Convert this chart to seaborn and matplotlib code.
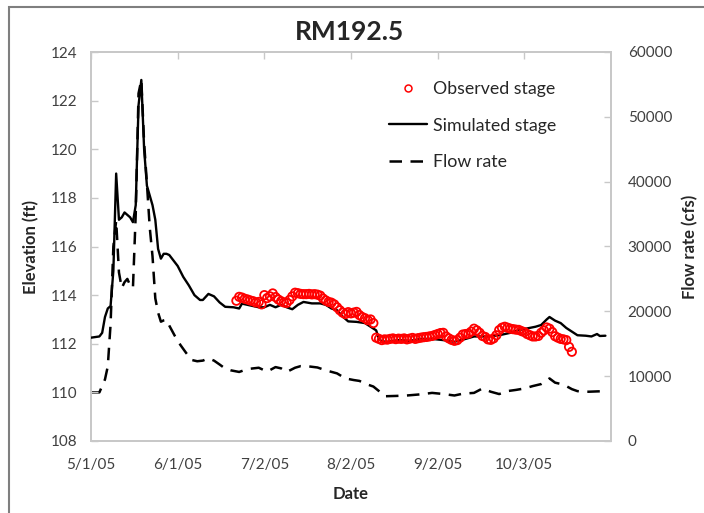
import numpy as np
import pandas as pd
import matplotlib
matplotlib.use("Agg")
import matplotlib.pyplot as plt
from matplotlib.lines import Line2D
from matplotlib.patches import Rectangle
import seaborn as sns

# ---------------- data (days since 5/1/05) ----------------
start_date = "2005-05-01"

sim_days = [0, 3, 4, 5, 6, 7, 8, 9, 10, 11, 12, 13, 14, 15, 16, 17, 18, 19, 20, 21,
            22, 23, 24, 25, 26, 27, 28, 29, 31, 33, 35, 37, 39, 40, 42, 44, 46, 48, 51, 53,
            54, 56, 58, 60, 62, 64, 66, 68, 70, 72, 74, 76, 79, 82, 84, 86, 88, 90, 92, 95,
            98, 100, 102, 103, 104, 106, 110, 114, 118, 122, 126, 130, 134, 137, 142, 146, 150, 153, 156, 159,
            161, 163, 164, 166, 168, 170, 172, 174, 177, 179, 181, 182, 184]
sim_stage = [112.25, 112.30, 112.45, 113.10, 113.45, 113.55, 115.0, 119.0, 117.1, 117.2,
             117.4, 117.3, 117.2, 117.0, 117.7, 121.8, 122.85, 120.0, 118.5, 118.1,
             117.7, 117.1, 115.9, 115.5, 115.7, 115.7, 115.65, 115.5, 115.2, 114.75,
             114.4, 114.0, 113.8, 113.8, 114.05, 113.95, 113.7, 113.52, 113.5, 113.45,
             113.65, 113.6, 113.55, 113.5, 113.5, 113.6, 113.5, 113.6, 113.5, 113.42,
             113.6, 113.72, 113.66, 113.66, 113.6, 113.45, 113.38, 113.12, 112.92, 112.9,
             112.85, 112.7, 112.55, 112.2, 112.1, 112.08, 112.15, 112.12, 112.2, 112.2,
             112.15, 112.08, 112.2, 112.3, 112.3, 112.35, 112.45, 112.56, 112.63, 112.7,
             112.77, 113.0, 113.1, 112.95, 112.85, 112.65, 112.5, 112.35, 112.33, 112.3,
             112.4, 112.32, 112.33]

flow_days = [0, 3, 4, 5, 6, 7, 8, 9, 10, 11, 12, 13, 14, 15, 16, 17, 18, 19, 20, 21,
             22, 23, 24, 25, 26, 27, 28, 30, 32, 34, 36, 38, 40, 42, 44, 46, 48, 50, 53, 56,
             60, 63, 66, 68, 70, 73, 75, 78, 81, 84, 88, 91, 94, 96, 99, 101, 103, 105, 109, 113,
             118, 122, 126, 130, 133, 137, 140, 143, 146, 149, 152, 155, 158, 161, 163, 164, 166, 168, 170, 172,
             174, 178, 181, 184]
flow_rate = [7500, 7500, 8500, 9500, 11500, 18000, 30000, 34000, 26000, 23600,
             24500, 25000, 24000, 23600, 35000, 53600, 55700, 46000, 39700, 33000,
             28500, 22000, 19800, 18400, 18600, 18700, 17800, 16200, 14800, 13600,
             12500, 12300, 12400, 12750, 12400, 11800, 11170, 10900, 10650, 11100,
             11300, 10700, 11400, 11200, 10650, 11300, 11550, 11500, 11340, 10900,
             10430, 9650, 9400, 9270, 8700, 8400, 7700, 6900, 6950, 7020,
             7200, 7420, 7250, 7020, 7300, 7420, 8100, 7600, 7240, 7700,
             7880, 8100, 8470, 8780, 9300, 9650, 9000, 8800, 8470, 8000,
             7690, 7600, 7650, 7690]

obs_first_day = 52
obs_stage = [113.77, 113.93, 113.90, 113.85, 113.82, 113.78, 113.75, 113.70, 113.72,
             113.62, 114.00, 113.88, 113.95, 114.07, 113.92, 113.82, 113.75, 113.70, 113.68,
             113.80, 113.95, 114.10, 114.08, 114.05, 114.04, 114.04, 114.05, 114.03, 114.04,
             114.02, 113.98, 113.86, 113.78, 113.72, 113.69, 113.62, 113.50, 113.38, 113.28,
             113.22, 113.30, 113.25, 113.28, 113.31, 113.18, 113.10, 113.05, 112.97, 113.00,
             112.85, 112.25, 112.20, 112.15, 112.18, 112.17, 112.20, 112.22, 112.19, 112.21,
             112.20, 112.22, 112.18, 112.21, 112.24, 112.20, 112.23, 112.25, 112.27, 112.28,
             112.30, 112.32, 112.36, 112.40, 112.44, 112.45, 112.30, 112.22, 112.16, 112.12,
             112.15, 112.25, 112.38, 112.40, 112.42, 112.50, 112.62, 112.55, 112.45, 112.32,
             112.28, 112.18, 112.16, 112.22, 112.35, 112.56, 112.66, 112.70, 112.66, 112.62,
             112.60, 112.58, 112.57, 112.52, 112.48, 112.40, 112.35, 112.30, 112.30, 112.32,
             112.45, 112.55, 112.67, 112.62, 112.48, 112.31, 112.25, 112.20, 112.18, 112.15,
             111.87, 111.67]

tick_dates = ["2005-05-01", "2005-06-01", "2005-07-02", "2005-08-02", "2005-09-02", "2005-10-03"]
tick_labels = ["5/1/05", "6/1/05", "7/2/05", "8/2/05", "9/2/05", "10/3/05"]
x_end = "2005-11-03"

# ---------------- build frames ----------------
t0 = pd.Timestamp(start_date)
sim_df = pd.DataFrame({"Date": t0 + pd.to_timedelta(sim_days, unit="D"), "Stage": sim_stage})
flow_df = pd.DataFrame({"Date": t0 + pd.to_timedelta(flow_days, unit="D"), "Flow": flow_rate})
obs_df = pd.DataFrame({"Date": t0 + pd.to_timedelta(np.arange(obs_first_day, obs_first_day + len(obs_stage)), unit="D"),
                       "Stage": obs_stage})

sns.set_style("white")
plt.rcParams["font.family"] = ["Lato", "DejaVu Sans"]

W, H = 704, 513
fig = plt.figure(figsize=(W / 100, H / 100), dpi=100)
L, R, T, B = 91, 611, 52, 441
ax = fig.add_axes([L / W, 1 - B / H, (R - L) / W, (B - T) / H])
ax2 = ax.twinx()

axis_gray = "#c8c8c8"
text_gray = "#404040"
dash_pat = [5.0, 3.4]

sns.lineplot(data=sim_df, x="Date", y="Stage", ax=ax, color="black", lw=1.7, zorder=3)
sns.lineplot(data=flow_df, x="Date", y="Flow", ax=ax2, color="black", lw=1.8, zorder=2)
ax2.lines[0].set_dashes(dash_pat)
sns.scatterplot(data=obs_df, x="Date", y="Stage", ax=ax, marker="o",
                facecolor="none", edgecolor="#ff0000", linewidth=1.3, s=36, zorder=4)

ax.set_ylim(108, 124)
ax.set_yticks(np.arange(108, 125, 2))
ax2.set_ylim(0, 60000)
ax2.set_yticks(np.arange(0, 60001, 10000))
ax.set_xlim(pd.Timestamp(start_date), pd.Timestamp(x_end))
ax.set_xticks(pd.to_datetime(tick_dates))
ax.set_xticklabels(tick_labels)

for a in (ax, ax2):
    for s in a.spines.values():
        s.set_color(axis_gray)
        s.set_linewidth(1.3)
ax.tick_params(axis="both", direction="in", length=5, width=1.0, color=axis_gray,
               labelsize=11, labelcolor=text_gray, pad=10, top=True)
ax.tick_params(axis="x", pad=12)
ax2.tick_params(axis="y", direction="in", length=5, width=1.0, color=axis_gray,
                labelsize=11, labelcolor=text_gray, pad=12)

ax.set_xlabel("Date", fontsize=12, fontweight="bold", labelpad=10)
ax.set_ylabel("Elevation (ft)", fontsize=12, fontweight="bold", labelpad=8)
ax2.set_ylabel("Flow rate (cfs)", fontsize=12, fontweight="bold", labelpad=7, rotation=90)
ax.patch.set_visible(False)
ax.set_zorder(ax2.get_zorder() + 1)

fig.text(0.497, 1 - 32 / H, "RM192.5", ha="center", va="center", fontsize=19, fontweight="bold")

handles = [
    Line2D([], [], ls="none", marker="o", markerfacecolor="none", markeredgecolor="#ff0000",
           markeredgewidth=1.1, markersize=5),
    Line2D([], [], color="black", lw=1.7),
    Line2D([], [], color="black", lw=1.8, dashes=dash_pat),
]
leg = ax.legend(handles, ["Observed stage", "Simulated stage", "Flow rate"],
                loc="upper left", bbox_to_anchor=((382 - L) / (R - L), 1 - (74 - T) / (B - T)),
                frameon=False, fontsize=12.8, labelspacing=1.15, handlelength=2.15,
                handletextpad=0.3, borderaxespad=0)

fig.patches.append(Rectangle((9 / W, -0.1), 2.0, 1 - 7 / H + 0.1, transform=fig.transFigure,
                             fill=False, edgecolor="#7f7f7f", lw=1.5, zorder=10))

fig.savefig("out.png", dpi=100)
